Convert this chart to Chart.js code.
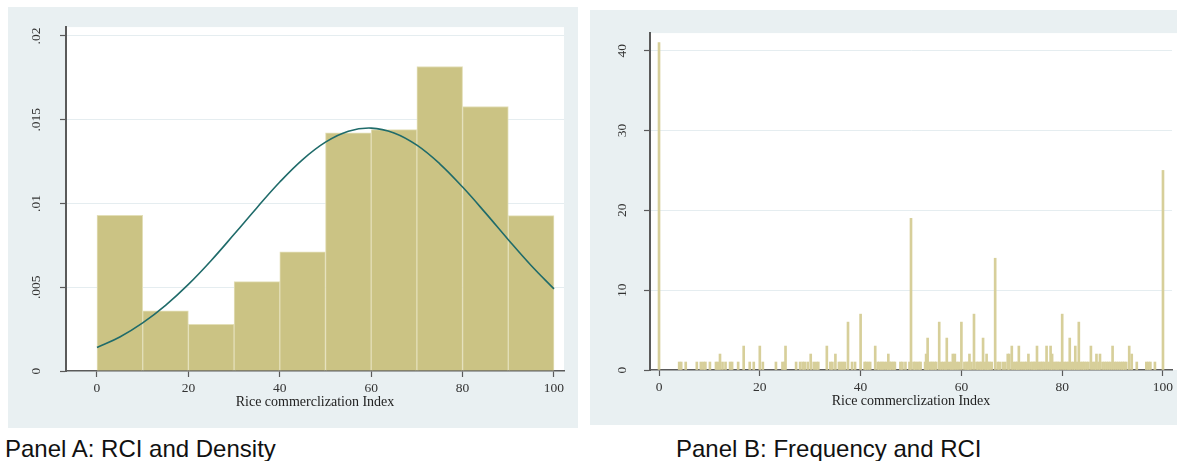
<!DOCTYPE html>
<html>
<head>
<meta charset="utf-8">
<script src="https://cdn.jsdelivr.net/npm/chart.js@4/dist/chart.umd.min.js"></script>
<style>
  body { margin: 0; background: #ffffff; width: 1177px; height: 461px; position: relative; overflow: hidden; }
  .panel { position: absolute; background: #e9f0f2; }
  .caption { position: absolute; font-family: 'Liberation Sans', Arial, sans-serif; font-size: 24px; line-height: 24px; color: #111; white-space: nowrap; }
</style>
</head>
<body>
<div class="panel" style="left:8px; top:7px; width:570px; height:421px;">
  <canvas id="graficaA" width="570" height="421"></canvas>
</div>
<div class="panel" style="left:590px; top:10px; width:587px; height:415px;">
  <canvas id="graficaB" width="587" height="415"></canvas>
</div>
<div class="caption" style="left:5px; top:437px;">Panel A: RCI and Density</div>
<div class="caption" style="left:676px; top:437px;">Panel B: Frequency and RCI</div>

<script>
// Panel A: histogram (density) of RCI, bins of 10
const binCenters = [5, 15, 25, 35, 45, 55, 65, 75, 85, 95];
const binDensity = [0.00929, 0.00359, 0.00279, 0.00534, 0.00712, 0.01422, 0.01441, 0.01818, 0.01579, 0.00928];

// normal density curve
const curveX = [0, 5, 10, 15, 20, 25, 30, 35, 40, 45, 50, 55, 60, 65, 70, 75, 80, 85, 90, 95, 100];
const curveY = [0.00140, 0.00203, 0.00287, 0.00392, 0.00517, 0.00660, 0.00816, 0.00975, 0.01128, 0.01262,
                0.01366, 0.01431, 0.01450, 0.01421, 0.01348, 0.01237, 0.01098, 0.00944, 0.00784, 0.00630, 0.00490];

const xTicksA = [0, 20, 40, 60, 80, 100];
const yTicksA = [0, 0.005, 0.01, 0.015, 0.02];
const yTickLabelsA = ['0', '.005', '.01', '.015', '.02'];

// Panel B: frequency of each RCI value
const rciValues = [0, 4.0, 4.4, 5.3, 7.5, 8.3, 8.8, 9.2, 10.1, 11.3, 11.7, 12.1, 12.6, 13.2, 14.1, 14.5, 15.7, 16.8, 18.0, 18.8,
  20.0, 20.6, 23.2, 24.5, 24.9, 25.1, 27.2, 28.0, 28.5, 28.9, 29.5, 30.1, 30.7, 31.2, 31.6, 33.3, 34.0, 34.4, 35.0, 35.7,
  36.1, 36.5, 36.9, 37.5, 38.3, 38.9, 40.0, 40.8, 41.1, 41.5, 41.9, 42.9, 43.4, 43.7, 44.1, 44.4, 44.8, 45.2, 45.5, 45.8,
  46.1, 46.5, 46.8, 47.9, 48.3, 48.9, 49.7, 50.0, 50.5, 50.8, 51.2, 51.6, 51.9, 52.8, 53.0, 53.3, 53.6, 54.0, 54.3, 54.7,
  55.0, 55.6, 56.0, 56.4, 56.8, 57.1, 57.6, 58.0, 58.3, 58.7, 59.1, 59.5, 60.0, 60.6, 61.0, 61.3, 61.6, 62.0, 62.5, 63.0,
  63.3, 63.7, 64.0, 64.3, 64.7, 65.0, 65.3, 65.6, 66.0, 66.7, 67.2, 67.6, 68.2, 68.7, 69.2, 69.5, 70.0, 70.4, 70.8, 71.1,
  71.4, 71.8, 72.2, 72.6, 72.9, 73.3, 73.7, 74.1, 74.4, 74.7, 75.0, 75.4, 75.8, 76.1, 76.5, 76.9, 77.3, 77.7, 78.0, 78.4,
  78.8, 79.1, 79.5, 80.0, 80.4, 80.8, 81.2, 81.5, 81.9, 82.3, 82.6, 83.0, 83.3, 83.7, 84.1, 84.4, 84.8, 85.2, 85.7, 86.1,
  86.5, 86.8, 87.2, 87.5, 88.0, 88.4, 88.8, 89.2, 89.6, 90.0, 90.4, 90.8, 91.2, 91.6, 92.0, 92.3, 92.7, 93.3, 93.8, 94.8,
  96.7, 97.1, 97.5, 98.4, 100];
const rciFreq = [41, 1, 1, 1, 1, 1, 1, 1, 1, 1, 1, 2, 1, 1, 1, 1, 1, 3, 1, 1,
  3, 1, 1, 1, 1, 3, 1, 1, 1, 1, 1, 2, 1, 1, 1, 3, 1, 1, 2, 1,
  1, 1, 1, 6, 1, 1, 7, 1, 1, 1, 1, 3, 1, 1, 1, 1, 1, 1, 2, 1,
  1, 1, 1, 1, 1, 1, 1, 19, 1, 1, 1, 1, 1, 1, 2, 4, 1, 1, 1, 1,
  1, 6, 1, 1, 1, 4, 1, 1, 2, 2, 1, 1, 6, 1, 1, 1, 2, 1, 7, 1,
  1, 1, 1, 4, 1, 2, 1, 1, 1, 14, 1, 1, 1, 1, 2, 2, 3, 1, 1, 1,
  3, 1, 1, 1, 1, 2, 1, 1, 1, 1, 3, 1, 1, 1, 1, 3, 1, 3, 2, 1,
  1, 1, 1, 7, 1, 1, 1, 4, 1, 1, 3, 1, 6, 1, 1, 1, 1, 1, 3, 1,
  1, 2, 1, 2, 1, 1, 1, 1, 1, 3, 1, 1, 1, 1, 1, 1, 1, 3, 2, 1,
  1, 1, 1, 1, 25];

const xTicksB = [0, 20, 40, 60, 80, 100];
const yTicksB = [0, 10, 20, 30, 40];

const xTitle = 'Rice commerclization Index';
const serif = "'Liberation Serif', 'DejaVu Serif', 'Times New Roman', serif";
const axisColor = '#5a5a5a';
const gridColor = '#e5edf0';
const labelColor = '#333333';

// white plot region, optionally stretched to the right edge of the canvas
function plotBackground(extendRight) {
  return {
    id: 'plotBackground',
    beforeDraw(chart) {
      const a = chart.chartArea;
      const ctx = chart.ctx;
      ctx.save();
      ctx.fillStyle = '#ffffff';
      const right = extendRight ? chart.width : a.right;
      ctx.fillRect(a.left, a.top, right - a.left, a.bottom - a.top);
      ctx.restore();
    }
  };
}

function fixedTicks(list) {
  return function(scale) {
    scale.ticks = list.map(v => ({ value: v }));
  };
}

const histData = binCenters.map((c, i) => ({ x: c, y: binDensity[i] }));
const curveData = curveX.map((x, i) => ({ x: x, y: curveY[i] }));

new Chart(document.getElementById('graficaA').getContext('2d'), {
  type: 'bar',
  data: {
    datasets: [
      {
        type: 'line',
        data: curveData,
        borderColor: '#1f6b6a',
        borderWidth: 1.6,
        pointRadius: 0,
        tension: 0.4,
        fill: false,
        order: 0
      },
      {
        data: histData,
        backgroundColor: '#cbc384',
        borderColor: '#e3dfb8',
        borderWidth: 1,
        barPercentage: 1,
        categoryPercentage: 1,
        order: 1
      }
    ]
  },
  options: {
    responsive: false,
    animation: false,
    layout: { padding: { left: 0, top: 15, right: 14, bottom: 0 } },
    plugins: { legend: { display: false }, tooltip: { enabled: false } },
    scales: {
      x: {
        type: 'linear',
        offset: false,
        min: -6.78,
        max: 102.19,
        afterBuildTicks: fixedTicks(xTicksA),
        afterFit: s => { s.height = 57; },
        grid: { offset: false, drawOnChartArea: false, tickLength: 6, tickColor: axisColor, tickWidth: 1.2 },
        border: { color: axisColor, width: 1.5 },
        ticks: { font: { family: serif, size: 13.5 }, color: labelColor, padding: 3, maxRotation: 0 },
        title: { display: true, text: xTitle, font: { family: serif, size: 14 }, color: '#222', padding: { top: 0, bottom: 17 } }
      },
      y: {
        type: 'linear',
        min: 0,
        max: 0.02053,
        afterBuildTicks: fixedTicks(yTicksA),
        afterFit: s => { s.width = 58; },
        grid: {
          color: ctx => (ctx.tick && ctx.tick.value === 0) ? 'rgba(0,0,0,0)' : gridColor,
          tickLength: 6, tickColor: axisColor, tickWidth: 1.2
        },
        border: { color: axisColor, width: 2 },
        ticks: {
          font: { family: serif, size: 13.5 }, color: labelColor,
          minRotation: 90, maxRotation: 90, crossAlign: 'center', padding: 12,
          callback: (v, i) => yTickLabelsA[i]
        }
      }
    }
  },
  plugins: [plotBackground(false)]
});

const spikeData = rciValues.map((v, i) => ({ x: v, y: rciFreq[i] }));

new Chart(document.getElementById('graficaB').getContext('2d'), {
  type: 'bar',
  data: {
    datasets: [{
      data: spikeData,
      backgroundColor: '#d7cf9a',
      borderWidth: 0,
      barThickness: 2
    }]
  },
  options: {
    responsive: false,
    animation: false,
    layout: { padding: { left: 0, top: 14, right: 5, bottom: 0 } },
    plugins: { legend: { display: false }, tooltip: { enabled: false } },
    scales: {
      x: {
        type: 'linear',
        offset: false,
        min: -1.79,
        max: 101.79,
        afterBuildTicks: fixedTicks(xTicksB),
        afterFit: s => { s.height = 55; },
        grid: { offset: false, drawOnChartArea: false, tickLength: 6, tickColor: axisColor, tickWidth: 1.2 },
        border: { color: axisColor, width: 1.5 },
        ticks: { font: { family: serif, size: 13.5 }, color: labelColor, padding: 3, maxRotation: 0 },
        title: { display: true, text: xTitle, font: { family: serif, size: 14 }, color: '#222', padding: { top: 0, bottom: 15 } }
      },
      y: {
        type: 'linear',
        min: 0,
        max: 42.2,
        afterBuildTicks: fixedTicks(yTicksB),
        afterFit: s => { s.width = 60; },
        grid: {
          color: ctx => (ctx.tick && ctx.tick.value === 0) ? 'rgba(0,0,0,0)' : gridColor,
          tickLength: 6, tickColor: axisColor, tickWidth: 1.2
        },
        border: { color: axisColor, width: 2 },
        ticks: {
          font: { family: serif, size: 13.5 }, color: labelColor,
          minRotation: 90, maxRotation: 90, crossAlign: 'center', padding: 15
        }
      }
    }
  },
  plugins: [plotBackground(true)]
});
</script>
</body>
</html>
